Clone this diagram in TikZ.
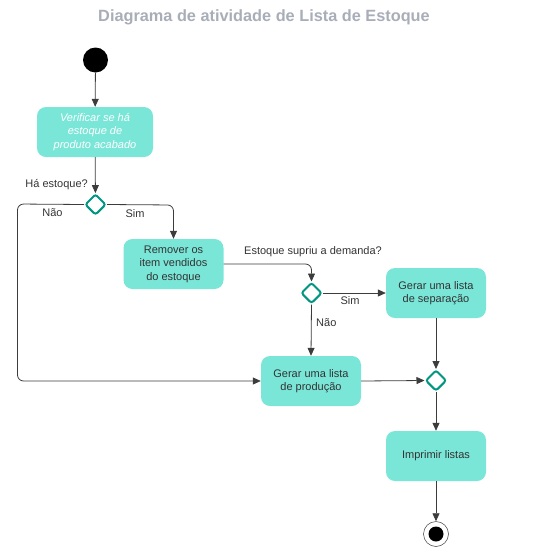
\documentclass[tikz,border=0pt]{standalone}
\usepackage{fontspec}
\setmainfont{Liberation Sans}
\usetikzlibrary{arrows.meta,shapes.geometric}
\definecolor{boxfill}{RGB}{122,230,216}
\definecolor{dia}{RGB}{0,150,130}
\definecolor{ln}{RGB}{60,60,60}
\definecolor{txt}{RGB}{51,51,51}
\definecolor{ttl}{RGB}{168,173,184}
\tikzset{
  act/.style={rectangle,rounded corners=9pt,fill=boxfill,minimum width=100pt,minimum height=50pt,
    inner sep=2pt,align=center,text=txt,font=\fontsize{11}{13.5}\selectfont},
  dec/.style={diamond,draw=dia,line width=2pt,fill=white,rounded corners=2.5pt,minimum width=21pt,minimum height=21pt,inner sep=0pt},
  flow/.style={draw=ln,line width=0.8pt,-{Triangle[length=8pt,width=7pt]},rounded corners=6pt},
  lbl/.style={text=txt,font=\fontsize{11}{13}\selectfont,inner sep=0pt},
}
\begin{document}
\begin{tikzpicture}[x=1pt,y=-1pt]
\useasboundingbox (0,0) rectangle (546,558);
\node[text=ttl,font=\bfseries\fontsize{16.3}{18}\selectfont] (title) at (264,17) {Diagrama de atividade de Lista de Estoque};
\node[circle,fill=black,minimum size=25pt,inner sep=0pt] (start) at (95.5,60) {};
\node[act,minimum width=116pt,text=white,font=\itshape\fontsize{11}{13.5}\selectfont] (b1) at (95,132) {Verificar se há\\estoque de\\produto acabado};
\node[dec] (d1) at (95.5,204.5) {};
\node[act] (b2) at (173.5,264) {Remover os\\item vendidos\\do estoque};
\node[dec] (d2) at (311.5,293) {};
\node[act] (b3) at (436,293) {Gerar uma lista\\de separação};
\node[act] (b4) at (311,381) {Gerar uma lista\\de produção};
\node[dec] (d3) at (436,380.5) {};
\node[act] (b5) at (436,456) {Imprimir listas};
\node[circle,draw=ln,line width=0.5pt,fill=white,minimum size=25pt,inner sep=0pt] (endo) at (436,534) {};
\node[circle,fill=black,minimum size=15pt,inner sep=0pt] (endi) at (436,534) {};
\coordinate (c1) at (17.5,204);
\coordinate (c2) at (17.5,381);
\coordinate (c3) at (173.5,205);
\coordinate (c4) at (311.5,264);

\draw[flow] (start) -- (b1);
\draw[flow] (b1) -- (d1);
\draw[flow] (d1.west) -- (c1) -- (c2) -- (b4.west);
\draw[flow] (d1.east) -- (c3) -- (b2.north);
\draw[flow] (b2.east) -- (c4) -- (d2.north);
\draw[flow] (d2.east) -- (b3.west);
\draw[flow] (d2.south) -- (b4.north);
\draw[flow] (b3.south) -- (d3.north);
\draw[flow] (b4.east) -- (d3.west);
\draw[flow] (d3.south) -- (b5.north);
\draw[flow] (b5.south) -- (endo.north);

\node[lbl,anchor=east] (l1) at (88,185) {Há estoque?};
\node[lbl] (l2) at (52.5,213) {Não};
\node[lbl] (l3) at (135,213.5) {Sim};
\node[lbl,anchor=west] (l4) at (244,252) {Estoque supriu a demanda?};
\node[lbl] (l5) at (350,300.5) {Sim};
\node[lbl,anchor=west] (l6) at (316,323) {Não};
\end{tikzpicture}
\end{document}
